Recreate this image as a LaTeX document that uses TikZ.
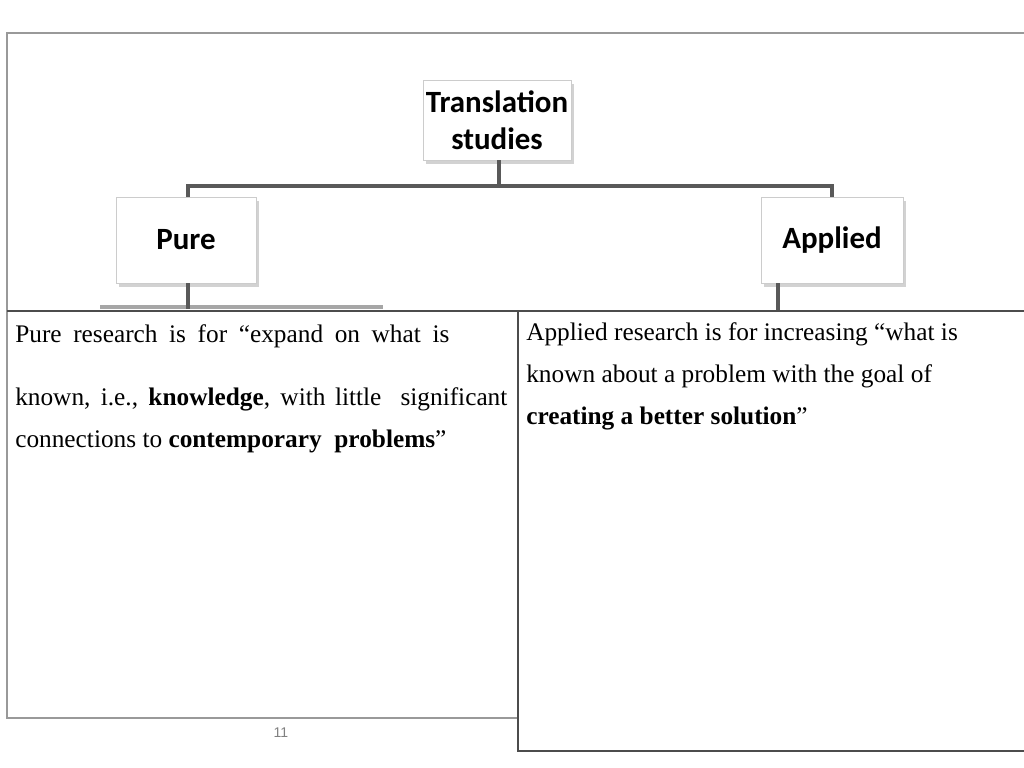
\documentclass[tikz,border=0pt]{standalone}
\usepackage{fontspec}
\setmainfont{Liberation Serif}
\setsansfont{Liberation Sans}
\newfontfamily\boxfont{Carlito}
\usetikzlibrary{shadows,positioning}

\begin{document}
\begin{tikzpicture}[
  x=0.025cm, y=-0.025cm,
  frame/.style={draw=black!40, line width=0.8pt},
  cell/.style={draw=black!70, line width=0.8pt},
  topic/.style={rectangle, draw=black!20, fill=white, align=center,
    drop shadow={shadow xshift=2pt, shadow yshift=-2.5pt, fill=black!35},
    font=\boxfont\bfseries\fontsize{22}{26}\selectfont, inner sep=2pt},
  tree/.style={draw=black!65, line width=2.2pt},
  textline/.style={anchor=base west, inner sep=0pt, font=\fontsize{18}{22}\selectfont}
]
\useasboundingbox (0,0) rectangle (1024,768);

% slide frame
\draw[frame] (1024,33) -- (7,33) -- (7,718) -- (518,718);

% tree of topics
\node[topic, minimum width=3.6cm, minimum height=2cm] (trans) at (497,120) {Translation\\studies};
\node[topic, minimum width=3.5cm, minimum height=2.15cm] (pure) at (186,240) {Pure};
\node[topic, minimum width=3.55cm, minimum height=2.15cm] (applied) at (832,240) {Applied};

\coordinate (fork) at (499,186);
\coordinate (pureleg) at (188,309);
\coordinate (appleg) at (778,311);
\coordinate (barL) at (100,307);
\coordinate (barR) at (383,307);

\draw[tree] (trans.south -| fork) -- (fork);
\draw[tree] (pure.north -| pureleg) |- (fork) -| (applied.north);
\draw[tree, draw=black!35, line width=3pt] (barL) -- (barR);
\draw[tree] (pure.south -| pureleg) -- (pureleg);
\draw[tree] (applied.south -| appleg) -- (appleg);

% table
\draw[cell] (7,311) -- (1024,311);
\draw[cell] (518,311) -- (518,751) -- (1024,751);

% left cell
\node[textline] (pureA) at (15,342) {\makebox[10.85cm][s]{Pure research is for “expand on what is}};
\node[textline] (pureB) at (15,405) {\makebox[12.3cm][s]{known, i.e., \textbf{knowledge}, with little \ significant}};
\node[textline] (pureC) at (15,447) {connections to \textbf{contemporary \ problems}”};

% right cell
\node[textline] (appA) at (526,340) {Applied research is for increasing “what is};
\node[textline] (appB) at (526,382) {known about a problem with the goal of};
\node[textline] (appC) at (526,424) {\textbf{creating a better solution}”};

\node[font=\sffamily\fontsize{10}{12}\selectfont, text=black!50] (pagenum) at (281,733) {11};
\end{tikzpicture}
\end{document}
